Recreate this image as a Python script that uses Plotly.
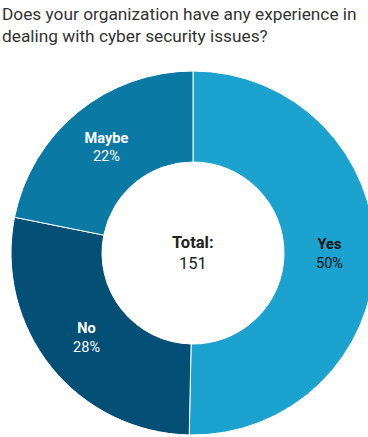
import plotly.graph_objects as go

# Survey answers (respondent counts)
labels = ["Yes", "No", "Maybe"]
counts = [76, 42, 33]
colors = ["#1ba2cf", "#034f75", "#0a7aa5"]
text_colors = ["#111111", "#ffffff", "#ffffff"]

title_lines = [
    "Does your organization have any experience in",
    "dealing with cyber security issues?",
]
total = sum(counts)

W, H = 375, 437
fig = go.Figure(
    go.Pie(
        labels=labels,
        values=counts,
        hole=0.5,
        sort=False,
        direction="clockwise",
        rotation=0,
        marker=dict(colors=colors, line=dict(color="#ffffff", width=1)),
        texttemplate="<b>%{label}</b><br>%{percent:.0%}",
        textposition="inside",
        insidetextorientation="horizontal",
        textfont=dict(family="Roboto", size=14.5, color=text_colors),
        hoverinfo="label+value+percent",
        showlegend=False,
    )
)

fig.add_annotation(
    text="<br>".join(title_lines),
    xref="paper", yref="paper",
    x=-11 / (W - 11), y=1 + 71 / (H - 73),
    xanchor="left", yanchor="top",
    yshift=-2,
    align="left", showarrow=False,
    font=dict(family="Roboto", size=17.3, color="#333333"),
)
fig.add_annotation(
    text="<b>Total:</b><br>%d" % total,
    xref="paper", yref="paper", x=0.5, y=0.5,
    showarrow=False, align="center",
    font=dict(family="Roboto", size=16.5, color="#222222"),
)

fig.update_layout(
    width=W, height=H,
    margin=dict(l=11, r=0, t=71, b=2),
    paper_bgcolor="#ffffff",
    plot_bgcolor="#ffffff",
)

fig.write_html(
    "out.html",
    post_script="document.body.style.overflow='hidden';"
                "document.documentElement.style.overflow='hidden';",
)
